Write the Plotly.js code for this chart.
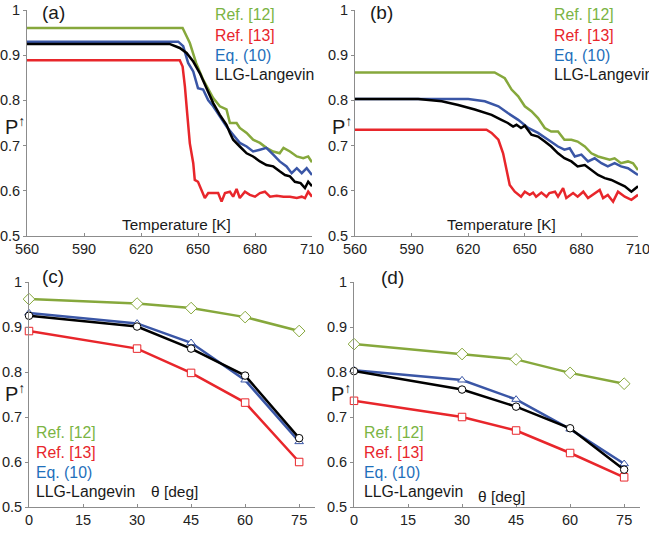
<!DOCTYPE html>
<html><head><meta charset="utf-8">
<script src="https://cdn.plot.ly/plotly-3.0.1.min.js"></script>
<style>html,body{margin:0;padding:0;background:#fff;overflow:hidden;}#chart{width:649px;height:534px;}</style>
</head><body><div id="chart"></div>
<script>
// ---------- Panel (a): P vs Temperature ----------
const a_ref12_T = [560,641.9,645.7,649,652.7,658,661.5,665,666.8,670.3,672,675.6,679,682.6,686,689.6,693,695,698.4,702,705.4,708,710];
const a_ref12_P = [0.96,0.96,0.927,0.883,0.846,0.805,0.787,0.78,0.75,0.75,0.739,0.728,0.713,0.706,0.695,0.687,0.683,0.695,0.687,0.676,0.672,0.676,0.663];
const a_ref13_T = [560,640.4,641.9,643.1,644.3,645.7,647.5,648.3,650,651.9,653.6,655.4,658,660.6,662.4,664.2,666.8,668.5,670.3,672,674.7,677.3,680,682.6,685.2,687.9,691.4,695,698.4,702,704.6,706.3,708,710];
const a_ref13_P = [0.889,0.889,0.875,0.831,0.772,0.705,0.661,0.624,0.62,0.602,0.584,0.595,0.595,0.595,0.576,0.595,0.598,0.587,0.604,0.584,0.598,0.591,0.587,0.595,0.598,0.587,0.589,0.587,0.587,0.584,0.587,0.584,0.598,0.587];
const a_eq10_T = [560,639.6,642.2,644.8,647.5,650,652.7,655.4,658,661.5,665,668.5,672,675.6,679,682.6,686,689.6,693,696.6,699.3,702,704.6,707.2,710];
const a_eq10_P = [0.93,0.93,0.92,0.883,0.864,0.827,0.824,0.80,0.787,0.765,0.742,0.724,0.706,0.698,0.687,0.691,0.695,0.68,0.665,0.654,0.639,0.65,0.639,0.65,0.635];
const a_llg_T = [560,635,640.4,644,647.5,651,654.5,658,661.5,665,666.8,668.5,672,675.6,679,682.6,686,689.6,693,695.8,698.4,701,704,706.3,708,710];
const a_llg_P = [0.925,0.925,0.916,0.905,0.886,0.86,0.827,0.794,0.768,0.746,0.728,0.713,0.698,0.683,0.676,0.665,0.657,0.654,0.643,0.635,0.632,0.62,0.617,0.606,0.62,0.61];

// ---------- Panel (b): P vs Temperature ----------
const b_ref12_T = [560,634,639.4,643,646.5,650,653.5,657,660.6,664,667.6,671,674.7,678,681.8,685.3,688.8,692.4,695,697.6,701,704.7,707.4,710];
const b_ref12_P = [0.862,0.862,0.849,0.824,0.809,0.787,0.776,0.761,0.739,0.731,0.731,0.713,0.713,0.709,0.698,0.683,0.676,0.672,0.669,0.672,0.661,0.665,0.661,0.646];
const b_ref13_T = [560,629.7,632.4,636,638.5,640.3,642,644.7,648,650,652.6,654.4,656,658.8,661.5,663,666,667.6,670.3,672,675.6,678,681,683.5,687,689.7,691.5,694,696.8,699.4,703,706.5,710];
const b_ref13_P = [0.735,0.735,0.728,0.713,0.683,0.646,0.613,0.598,0.587,0.598,0.591,0.596,0.587,0.596,0.587,0.595,0.598,0.587,0.606,0.584,0.595,0.587,0.598,0.584,0.595,0.602,0.584,0.591,0.576,0.598,0.587,0.58,0.591];
const b_eq10_T = [560,620,628.8,636,641,646.5,651.8,657,662.4,667.6,671,673.8,676.5,680,683.5,687,690.6,694,697.6,701,704.7,707.4,710];
const b_eq10_P = [0.803,0.803,0.798,0.787,0.772,0.757,0.739,0.728,0.713,0.698,0.691,0.694,0.676,0.68,0.665,0.672,0.661,0.654,0.661,0.654,0.65,0.643,0.635];
const b_llg_T = [560,593.5,606,614.7,623.5,632.4,637.6,641,643.8,645.6,648,650,653.5,657,660.6,664,667.6,671,674.7,678,681.8,685.3,688.8,692.4,695.9,699.4,703,706.5,710];
const b_llg_P = [0.803,0.803,0.798,0.79,0.78,0.768,0.757,0.75,0.742,0.746,0.739,0.744,0.724,0.72,0.709,0.698,0.683,0.672,0.665,0.654,0.657,0.646,0.635,0.628,0.624,0.617,0.61,0.598,0.61];

// ---------- Panels (c), (d): P vs theta ----------
const theta = [0,30,45,60,75];
const c_ref12 = [0.962,0.952,0.942,0.922,0.891];
const c_ref13 = [0.891,0.852,0.798,0.732,0.60];
const c_eq10  = [0.931,0.908,0.865,0.782,0.645];
const c_llg   = [0.925,0.901,0.852,0.792,0.653];
const d_ref12 = [0.862,0.84,0.828,0.798,0.774];
const d_ref13 = [0.736,0.70,0.67,0.62,0.566];
const d_eq10  = [0.804,0.782,0.739,0.673,0.596];
const d_llg   = [0.802,0.761,0.723,0.675,0.583];

// ---------- Tick labels / text ----------
const tempTicks = [560,590,620,650,680,710];
const thetaTicks = [0,15,30,45,60,75];
const pTicks = [0.5,0.6,0.7,0.8,0.9,1];
const pTickText = ['0.5','0.6','0.7','0.8','0.9','1'];
const legendNames = ['Ref. [12]','Ref. [13]','Eq. (10)','LLG-Langevin'];
const panelLabels = ['(a)','(b)','(c)','(d)'];

const W = 649, H = 534;
const GREEN = '#86a83c', RED = '#e8262b', BLUE = '#3a56a6', BLACK = '#000000';
const TXT_GREEN = '#7bb443', TXT_RED = '#e8262b', TXT_BLUE = '#1f70bb', TXT_BLACK = '#1a1a1a';
const textColors = [TXT_GREEN, TXT_RED, TXT_BLUE, TXT_BLACK];
const FONT = 'Liberation Sans, Arial, Helvetica, sans-serif';

function px(x){return x/W;}
function py(y){return 1 - y/H;}

const traces = [];
function lineTrace(x, y, c, xa, ya){
  traces.push({x:x, y:y, type:'scatter', mode:'lines', line:{color:c, width:2.5}, xaxis:xa, yaxis:ya, hoverinfo:'skip', showlegend:false});
}
lineTrace(a_ref12_T, a_ref12_P, GREEN, 'x', 'y');
lineTrace(a_eq10_T, a_eq10_P, BLUE, 'x', 'y');
lineTrace(a_llg_T, a_llg_P, BLACK, 'x', 'y');
lineTrace(a_ref13_T, a_ref13_P, RED, 'x', 'y');
lineTrace(b_ref12_T, b_ref12_P, GREEN, 'x2', 'y2');
lineTrace(b_eq10_T, b_eq10_P, BLUE, 'x2', 'y2');
lineTrace(b_llg_T, b_llg_P, BLACK, 'x2', 'y2');
lineTrace(b_ref13_T, b_ref13_P, RED, 'x2', 'y2');

function markTrace(y, c, sym, xa, ya){
  traces.push({x:theta, y:y, type:'scatter', mode:'lines+markers', line:{color:c, width:2.5},
    marker:{symbol:sym, size: sym==='diamond'?9:7.5, color:'#ffffff', line:{color:c, width:1}},
    xaxis:xa, yaxis:ya, hoverinfo:'skip', showlegend:false, cliponaxis:false});
}
markTrace(c_ref12, GREEN, 'diamond', 'x3', 'y3');
markTrace(c_ref13, RED, 'square', 'x3', 'y3');
markTrace(c_eq10, BLUE, 'triangle-up', 'x3', 'y3');
markTrace(c_llg, BLACK, 'circle', 'x3', 'y3');
markTrace(d_ref12, GREEN, 'diamond', 'x4', 'y4');
markTrace(d_ref13, RED, 'square', 'x4', 'y4');
markTrace(d_eq10, BLUE, 'triangle-up', 'x4', 'y4');
markTrace(d_llg, BLACK, 'circle', 'x4', 'y4');

const tickFont = {family: FONT, size: 14.5, color: '#222'};
function xAx(dom, anchor, range, ticks){
  return {domain: dom, anchor: anchor, range: range, tickvals: ticks, ticktext: ticks.map(String),
    showgrid:false, zeroline:false, showline:true, linecolor:'#8c8c8c', linewidth:1,
    ticks:'inside', ticklen:3, tickcolor:'#8c8c8c', tickfont: tickFont, fixedrange:true,
    ticklabeloverflow:'allow'};
}
function yAx(dom, anchor){
  return {domain: dom, anchor: anchor, range:[0.5,1], tickvals: pTicks, ticktext: pTickText,
    showgrid:false, zeroline:false, showline:true, linecolor:'#8c8c8c', linewidth:1,
    ticks:'outside', ticklen:3, tickcolor:'#8c8c8c', tickfont: tickFont, fixedrange:true,
    ticklabeloverflow:'allow'};
}
const topY = [py(236), py(10)];
const botY = [py(507), py(282)];

const annotations = [];
function ann(text, x, y, size, color){
  annotations.push({text:text, xref:'paper', yref:'paper', x:px(x), y:py(y), xanchor:'left', yanchor:'middle',
    showarrow:false, font:{family:FONT, size:size, color:color}});
}
// legends
const legTops = [[213,15],[552,15],[34,432],[362,432]];
const legDy = [0, 20, 40, 59];
legTops.forEach(function(p){
  legendNames.forEach(function(n,i){ ann(n, p[0], p[1]+legDy[i], 15.8, textColors[i]); });
});
// panel labels
ann(panelLabels[0], 40, 13, 19, '#1a1a1a');
ann(panelLabels[1], 368, 13, 19, '#1a1a1a');
ann(panelLabels[2], 40, 276, 19, '#1a1a1a');
ann(panelLabels[3], 379, 277, 19, '#1a1a1a');
// axis titles
ann('Temperature [K]', 120, 224, 15.3, '#1a1a1a');
ann('Temperature [K]', 445, 224, 15.3, '#1a1a1a');
ann('θ [deg]', 149, 491, 15.5, '#1a1a1a');
ann('θ [deg]', 476, 496, 15.5, '#1a1a1a');
ann('P<sup>↑</sup>', 3, 125, 20, '#1a1a1a');
ann('P<sup>↑</sup>', 330, 125, 20, '#1a1a1a');
ann('P<sup>↑</sup>', 3, 392, 20, '#1a1a1a');
ann('P<sup>↑</sup>', 329, 392, 20, '#1a1a1a');

const layout = {
  width: W, height: H, margin:{l:0,r:0,t:0,b:0}, paper_bgcolor:'#fff', plot_bgcolor:'#fff',
  showlegend:false, font:{family:FONT},
  xaxis: xAx([px(27), px(312)], 'y', [560,710], tempTicks),
  yaxis: yAx(topY, 'x'),
  xaxis2: xAx([px(355), px(638)], 'y2', [560,710], tempTicks),
  yaxis2: yAx(topY, 'x2'),
  xaxis3: xAx([px(29), px(315)], 'y3', [0,79.4], thetaTicks),
  yaxis3: yAx(botY, 'x3'),
  xaxis4: xAx([px(354), px(640)], 'y4', [0,79.4], thetaTicks),
  yaxis4: yAx(botY, 'x4'),
  annotations: annotations
};
Plotly.newPlot('chart', traces, layout, {displayModeBar:false, staticPlot:true});
</script></body></html>
